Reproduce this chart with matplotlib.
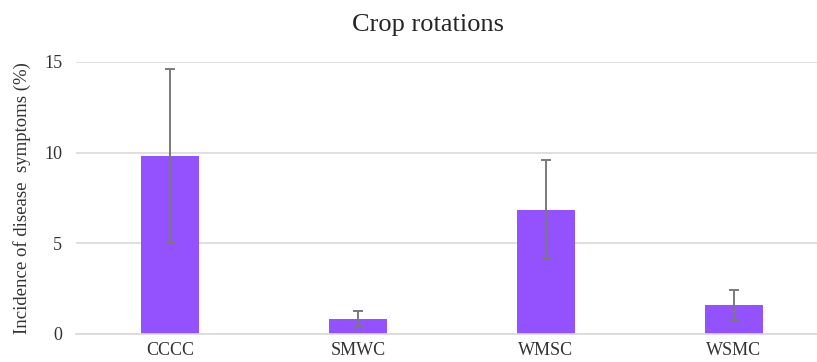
import matplotlib.pyplot as plt

rotations = ['CCCC', 'SMWC', 'WMSC', 'WSMC']
incidence = [9.83, 0.83, 6.85, 1.6]
errors = [4.8, 0.46, 2.74, 0.84]
y_ticks = [0, 5, 10, 15]

plt.rcParams['font.family'] = ['Liberation Serif', 'DejaVu Serif']

fig = plt.figure(figsize=(8.17, 3.62), dpi=100)
ax = fig.add_axes([76 / 817, 28 / 362, (828 - 76) / 817, 272 / 362])

x = range(len(rotations))
ax.bar(x, incidence, width=0.31, color='#9452FF', zorder=2,
       yerr=errors, error_kw=dict(ecolor='#7a7a7a', elinewidth=1.4, capsize=3.5, capthick=1.4))

ax.set_xlim(-0.5, 3.5)
ax.set_ylim(0, 15)
ax.set_yticks(y_ticks)
ax.set_xticks(list(x))
ax.set_xticklabels(rotations)
ax.grid(axis='y', color='#d9d9d9', linewidth=1.2, zorder=0)
for side in ['top', 'right', 'left']:
    ax.spines[side].set_visible(False)
ax.spines['bottom'].set_color('#d9d9d9')
ax.spines['bottom'].set_linewidth(1.2)
ax.tick_params(axis='both', length=0, labelsize=13, labelcolor='#333333')
ax.tick_params(axis='y', pad=10)
ax.tick_params(axis='x', pad=6)
ax.set_ylabel('Incidence of disease  symptoms (%)', fontsize=13.5, color='#333333', labelpad=9)

fig.text(428 / 817, 1 - 25 / 362, 'Crop rotations', ha='center', va='center',
         fontsize=19, color='#262626')

fig.savefig('out.png', dpi=100)
